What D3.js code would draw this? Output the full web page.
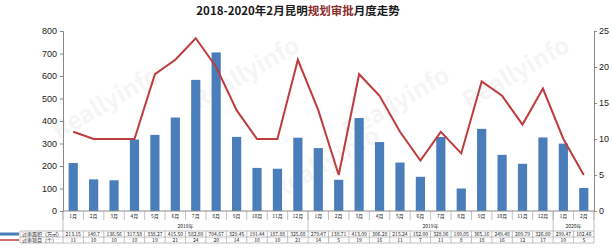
<!DOCTYPE html>
<html><head><meta charset="utf-8">
<script src="https://cdn.jsdelivr.net/npm/d3@7/dist/d3.min.js"></script>
<style>body{margin:0;background:#fff}svg{display:block;font-family:"Noto Sans CJK SC","Noto Sans",sans-serif}</style>
</head><body><svg id="c" width="612" height="248"></svg>
<script>
const months = ["1月","2月","3月","4月","5月","6月","7月","8月","9月","10月","11月","12月","1月","2月","3月","4月","5月","6月","7月","8月","9月","10月","11月","12月","1月","2月"];
const years = [{label:"2018年", start:0, end:12},{label:"2019年", start:12, end:24},{label:"2020年", start:24, end:26}];
const area = [213.15,140.7,136.56,317.58,338.27,415.50,582.80,704.67,329.45,191.44,187.88,325.68,279.47,138.71,413.09,306.28,215.24,152.00,328.96,100.05,365.16,249.48,209.79,326.80,299.47,102.46];
const areaLabels = ["213.15","140.7","136.56","317.58","338.27","415.50","582.80","704.67","329.45","191.44","187.88","325.68","279.47","138.71","413.09","306.28","215.24","152.00","328.96","100.05","365.16","249.48","209.79","326.80","299.47","102.46"];
const projects = [11,10,10,10,19,21,24,20,14,10,10,21,14,5,19,16,11,7,11,8,18,16,12,17,10,5];
const leftTicks = [0,100,200,300,400,500,600,700,800];
const rightTicks = [0,5,10,15,20,25];

const svg = d3.select("#c");
const L = 63, R = 594, T = 31, B = 211;
const idx = d3.range(months.length);
const x = d3.scaleBand().domain(idx).range([L, R]).padding(0);
const yL = d3.scaleLinear().domain([0,800]).range([B, T]);
const yR = d3.scaleLinear().domain([0,25]).range([B, T]);

// faint watermarks, kept inside the canvas
const wm = [[110,110],[250,80],[400,110],[520,80],[330,170]];
wm.forEach(([a,b])=>{
  svg.append("text").attr("x",a).attr("y",b).attr("transform",`rotate(-30,${a},${b})`)
    .attr("font-size",24).attr("font-weight","bold").attr("fill","#000").attr("opacity",0.035)
    .attr("text-anchor","middle").text("Reallyinfo");
});

// title
const title = svg.append("text").attr("x",298).attr("y",15).attr("text-anchor","middle")
  .attr("font-size",11.5).attr("font-weight","bold").attr("fill","#1a1a1a");
title.append("tspan").text("2018-2020年2月昆明");
title.append("tspan").attr("fill","#8c2b2b").text("规划审批");
title.append("tspan").text("月度走势");

// bars
const bw = x.bandwidth()*0.45;
svg.append("g").selectAll("rect").data(area).join("rect")
  .attr("x",(d,i)=>x(i)+x.bandwidth()/2-bw/2).attr("width",bw)
  .attr("y",d=>yL(d)).attr("height",d=>B-yL(d)).attr("fill","#4a7ebb");

// line
const line = d3.line().x((d,i)=>x(i)+x.bandwidth()/2).y(d=>yR(d));
svg.append("path").datum(projects).attr("d",line).attr("fill","none")
  .attr("stroke","#be3b3e").attr("stroke-width",2).attr("stroke-linejoin","miter");

// axes
const axL = svg.append("g").attr("transform",`translate(${L},0)`)
  .call(d3.axisLeft(yL).tickValues(leftTicks).tickSize(3).tickPadding(3));
const axR = svg.append("g").attr("transform",`translate(${R},0)`)
  .call(d3.axisRight(yR).tickValues(rightTicks).tickSize(3).tickPadding(2));
[axL,axR].forEach(a=>{
  a.select(".domain").attr("stroke","#888");
  a.selectAll(".tick line").attr("stroke","#888");
  a.selectAll("text").attr("font-size",9).attr("fill","#222").attr("font-family","Liberation Sans, Arial, sans-serif");
});

// category table
const g = svg.append("g").attr("stroke","#999").attr("stroke-width",0.6);
g.append("line").attr("x1",L).attr("x2",R).attr("y1",B).attr("y2",B).attr("stroke","#888").attr("stroke-width",1);
idx.concat([months.length]).forEach(i=>{
  const xx = i<months.length ? x(i) : R;
  g.append("line").attr("x1",xx).attr("x2",xx).attr("y1",B).attr("y2",220);
});
[0,12,24,26].forEach(i=>{
  const xx = i<months.length ? x(i) : R;
  g.append("line").attr("x1",xx).attr("x2",xx).attr("y1",B).attr("y2",231);
});
[231,237,243].forEach(yy=>g.append("line").attr("x1",20).attr("x2",R).attr("y1",yy).attr("y2",yy));
idx.concat([months.length]).forEach(i=>{
  const xx = i<months.length ? x(i) : R;
  g.append("line").attr("x1",xx).attr("x2",xx).attr("y1",231).attr("y2",243);
});
g.append("line").attr("x1",20).attr("x2",20).attr("y1",231).attr("y2",243);

const tg = svg.append("g").attr("font-size",5).attr("fill","#222").attr("text-anchor","middle");
tg.selectAll(".m").data(months).join("text").attr("class","m")
  .attr("x",(d,i)=>x(i)+x.bandwidth()/2).attr("y",217.5).text(d=>d);
tg.selectAll(".yr").data(years).join("text").attr("class","yr")
  .attr("x",d=>(x(d.start)+(d.end<months.length?x(d.end):R))/2).attr("y",228).text(d=>d.label);
tg.selectAll(".a").data(areaLabels).join("text").attr("class","a")
  .attr("x",(d,i)=>x(i)+x.bandwidth()/2).attr("y",235.8).text(d=>d);
tg.selectAll(".p").data(projects).join("text").attr("class","p")
  .attr("x",(d,i)=>x(i)+x.bandwidth()/2).attr("y",241.8).text(d=>d);

// legend keys + row labels
svg.append("rect").attr("x",0).attr("y",232.5).attr("width",19).attr("height",3).attr("fill","#4a7ebb");
svg.append("line").attr("x1",0).attr("x2",19).attr("y1",240).attr("y2",240).attr("stroke","#be3b3e").attr("stroke-width",1.5);
svg.append("text").attr("x",22).attr("y",235.8).attr("font-size",5).attr("fill","#222").text("过审面积（万㎡）");
svg.append("text").attr("x",22).attr("y",241.8).attr("font-size",5).attr("fill","#222").text("过审项目（个）");
</script></body></html>
